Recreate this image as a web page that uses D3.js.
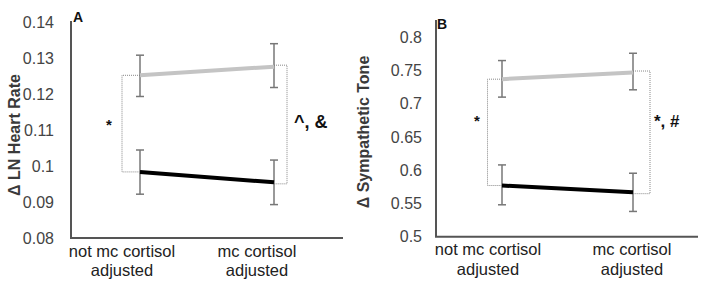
<!DOCTYPE html>
<html><head><meta charset="utf-8">
<script src="https://cdn.jsdelivr.net/npm/d3@7"></script>
<style>body{margin:0;background:#fff}svg{display:block}</style>
</head><body>
<svg id="c" width="703" height="281"></svg>
<script>
const categories = ["not mc cortisol\nadjusted", "mc cortisol\nadjusted"];

// Panel A: Δ LN Heart Rate
const aTicks = [0.08, 0.09, 0.1, 0.11, 0.12, 0.13, 0.14];
const aTickLabels = ["0.08", "0.09", "0.1", "0.11", "0.12", "0.13", "0.14"];
const aGray = [0.1253, 0.1277];
const aGrayLo = [0.1194, 0.1219];
const aGrayHi = [0.1309, 0.1341];
const aBlack = [0.0984, 0.0955];
const aBlackLo = [0.0922, 0.0893];
const aBlackHi = [0.1045, 0.1017];

// Panel B: Δ Sympathetic Tone
const bTicks = [0.5, 0.55, 0.6, 0.65, 0.7, 0.75, 0.8];
const bTickLabels = ["0.5", "0.55", "0.6", "0.65", "0.7", "0.75", "0.8"];
const bGray = [0.737, 0.747];
const bGrayLo = [0.710, 0.721];
const bGrayHi = [0.765, 0.776];
const bBlack = [0.577, 0.567];
const bBlackLo = [0.548, 0.538];
const bBlackHi = [0.608, 0.5955];

const svg = d3.select("#c");
const FONT = "'Liberation Sans', Arial, sans-serif";

function panel(o) {
  const g = svg.append("g");
  const y = d3.scaleLinear().domain(o.domain).range(o.yRange);
  const x = d3.scalePoint().domain(categories).range(o.xRange);
  const xl = d3.scalePoint().domain(categories).range(o.labelRange);

  // axes lines
  g.append("line").attr("x1", o.axisX).attr("x2", o.axisX)
    .attr("y1", o.axisTop).attr("y2", y(o.domain[0]))
    .attr("stroke", "#555").attr("stroke-width", 2);
  g.append("line").attr("x1", o.axisX - 1).attr("x2", o.axisRight)
    .attr("y1", y(o.domain[0])).attr("y2", y(o.domain[0]))
    .attr("stroke", "#555").attr("stroke-width", 2);

  // tick labels
  g.selectAll(".tl").data(o.ticks).join("text")
    .attr("x", o.tickX).attr("y", d => y(d))
    .attr("text-anchor", "end").attr("dominant-baseline", "central")
    .attr("font-family", FONT).attr("font-size", 16).attr("fill", "#444")
    .text((d, i) => o.tickLabels[i]);

  // category labels
  categories.forEach(c => {
    const parts = c.split("\n");
    parts.forEach((p, i) => {
      g.append("text").attr("x", xl(c)).attr("y", o.labelY[i])
        .attr("text-anchor", "middle").attr("font-family", FONT)
        .attr("font-size", 16.5).attr("fill", "#222").text(p);
    });
  });

  // y title
  g.append("text")
    .attr("transform", `translate(${o.titleX},${o.titleY}) rotate(-90)`)
    .attr("text-anchor", "middle").attr("dominant-baseline", "central")
    .attr("font-family", FONT).attr("font-size", 16).attr("font-weight", "bold")
    .attr("fill", "#3a3a3a").text(o.title);

  // panel letter
  g.append("text").attr("x", o.letterX).attr("y", o.letterY)
    .attr("font-family", FONT).attr("font-size", 14).attr("font-weight", "bold")
    .attr("fill", "#111").text(o.letter);

  // brackets (dotted)
  const br = (xa, xb, y1, y2) => {
    const path = d3.path();
    path.moveTo(xa, y1); path.lineTo(xb, y1); path.lineTo(xb, y2); path.lineTo(xa, y2);
    g.append("path").attr("d", path.toString()).attr("fill", "none")
      .attr("stroke", "#888").attr("stroke-width", 1).attr("stroke-dasharray", "1,1");
  };
  br(x(categories[0]), x(categories[0]) - o.brL, y(o.gray[0]), y(o.black[0]));
  br(x(categories[1]), x(categories[1]) + o.brR, y(o.gray[1]) - 1.5, y(o.black[1]) + 1.5);

  // error bars
  const eb = (vals, lo, hi) => {
    categories.forEach((c, i) => {
      const cx = x(c);
      g.append("line").attr("x1", cx).attr("x2", cx).attr("y1", y(hi[i])).attr("y2", y(lo[i]))
        .attr("stroke", "#777").attr("stroke-width", 1.5);
      [hi[i], lo[i]].forEach(v => g.append("line").attr("x1", cx - 4).attr("x2", cx + 4)
        .attr("y1", y(v)).attr("y2", y(v)).attr("stroke", "#777").attr("stroke-width", 1.5));
    });
  };
  eb(o.gray, o.grayLo, o.grayHi);
  eb(o.black, o.blackLo, o.blackHi);

  const line = d3.line().x((d, i) => x(categories[i])).y(d => y(d));
  g.append("path").attr("d", line(o.gray)).attr("fill", "none")
    .attr("stroke", "#c4c4c4").attr("stroke-width", 4);
  g.append("path").attr("d", line(o.black)).attr("fill", "none")
    .attr("stroke", "#000").attr("stroke-width", 4);

  // significance annotations
  g.append("text").attr("x", o.starX).attr("y", o.starY).attr("text-anchor", "middle")
    .attr("font-family", FONT).attr("font-size", 15).attr("font-weight", "bold")
    .attr("fill", "#111").text("*");
  g.append("text").attr("x", o.annX).attr("y", o.annY)
    .attr("font-family", FONT).attr("font-size", o.annSize).attr("font-weight", "bold")
    .attr("fill", "#111").text(o.ann);
}

panel({
  domain: [0.08, 0.14], yRange: [238, 22.5], xRange: [140, 274], labelRange: [122, 257],
  axisX: 71, axisTop: 21, axisRight: 343, tickX: 54, ticks: aTicks, tickLabels: aTickLabels,
  labelY: [257, 276], titleX: 14, titleY: 135, title: "Δ LN Heart Rate",
  letter: "A", letterX: 73, letterY: 22,
  gray: aGray, grayLo: aGrayLo, grayHi: aGrayHi, black: aBlack, blackLo: aBlackLo, blackHi: aBlackHi,
  brL: 18, brR: 13, starX: 109, starY: 130, ann: "^, &", annX: 294, annY: 128, annSize: 18
});

panel({
  domain: [0.5, 0.8], yRange: [236.7, 37.3], xRange: [502, 633], labelRange: [488, 632],
  axisX: 436, axisTop: 20, axisRight: 698, tickX: 422, ticks: bTicks, tickLabels: bTickLabels,
  labelY: [255, 275], titleX: 363, titleY: 132, title: "Δ Sympathetic Tone",
  letter: "B", letterX: 437, letterY: 29,
  gray: bGray, grayLo: bGrayLo, grayHi: bGrayHi, black: bBlack, blackLo: bBlackLo, blackHi: bBlackHi,
  brL: 14.5, brR: 17, starX: 477, starY: 126, ann: "*, #", annX: 654, annY: 127, annSize: 17
});
</script>
</body></html>
